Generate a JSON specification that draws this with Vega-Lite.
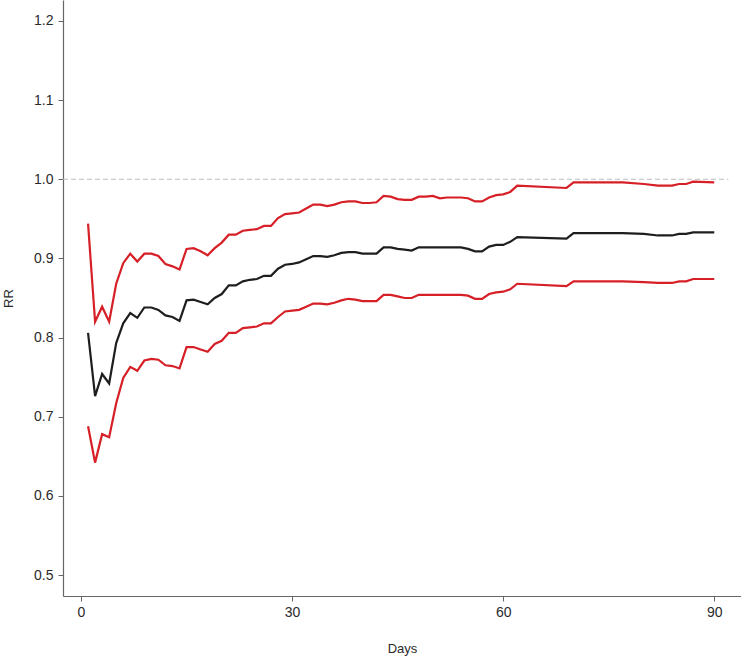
{
  "$schema": "https://vega.github.io/schema/vega-lite/v6.json",
  "width": 678,
  "height": 596,
  "autosize": {"type": "none"},
  "padding": {"left": 63, "top": 0, "right": 0, "bottom": 64},
  "background": "white",
  "config": {
    "view": {"stroke": null},
    "font": "Liberation Sans",
    "axis": {
      "grid": false,
      "domainColor": "#666666",
      "domainWidth": 1.2,
      "tickColor": "#666666",
      "tickSize": 5,
      "labelColor": "#2a2a2a",
      "labelFontSize": 14,
      "labelFont": "Liberation Sans",
      "titleFont": "Liberation Sans",
      "titleFontSize": 13,
      "titleFontWeight": "normal",
      "titleColor": "#2a2a2a"
    }
  },
  "datasets": {
    "rr": [
      {"day": 1, "rr": 0.806, "lo": 0.688, "hi": 0.944},
      {"day": 2, "rr": 0.726, "lo": 0.642, "hi": 0.820},
      {"day": 3, "rr": 0.754, "lo": 0.678, "hi": 0.839},
      {"day": 4, "rr": 0.742, "lo": 0.674, "hi": 0.820},
      {"day": 5, "rr": 0.793, "lo": 0.717, "hi": 0.868},
      {"day": 6, "rr": 0.818, "lo": 0.749, "hi": 0.894},
      {"day": 7, "rr": 0.831, "lo": 0.763, "hi": 0.906},
      {"day": 8, "rr": 0.825, "lo": 0.758, "hi": 0.896},
      {"day": 9, "rr": 0.838, "lo": 0.771, "hi": 0.906},
      {"day": 10, "rr": 0.838, "lo": 0.773, "hi": 0.906},
      {"day": 11, "rr": 0.835, "lo": 0.772, "hi": 0.903},
      {"day": 12, "rr": 0.828, "lo": 0.765, "hi": 0.893},
      {"day": 13, "rr": 0.826, "lo": 0.764, "hi": 0.890},
      {"day": 14, "rr": 0.821, "lo": 0.761, "hi": 0.886},
      {"day": 15, "rr": 0.847, "lo": 0.788, "hi": 0.912},
      {"day": 16, "rr": 0.848, "lo": 0.788, "hi": 0.913},
      {"day": 17, "rr": 0.845, "lo": 0.785, "hi": 0.909},
      {"day": 18, "rr": 0.842, "lo": 0.782, "hi": 0.904},
      {"day": 19, "rr": 0.850, "lo": 0.792, "hi": 0.913},
      {"day": 20, "rr": 0.855, "lo": 0.796, "hi": 0.920},
      {"day": 21, "rr": 0.866, "lo": 0.806, "hi": 0.930},
      {"day": 22, "rr": 0.866, "lo": 0.806, "hi": 0.930},
      {"day": 23, "rr": 0.871, "lo": 0.812, "hi": 0.935},
      {"day": 24, "rr": 0.873, "lo": 0.813, "hi": 0.936},
      {"day": 25, "rr": 0.874, "lo": 0.814, "hi": 0.937},
      {"day": 26, "rr": 0.878, "lo": 0.818, "hi": 0.941},
      {"day": 27, "rr": 0.878, "lo": 0.818, "hi": 0.941},
      {"day": 28, "rr": 0.887, "lo": 0.826, "hi": 0.951},
      {"day": 29, "rr": 0.892, "lo": 0.833, "hi": 0.956},
      {"day": 30, "rr": 0.893, "lo": 0.834, "hi": 0.957},
      {"day": 31, "rr": 0.895, "lo": 0.835, "hi": 0.958},
      {"day": 32, "rr": 0.899, "lo": 0.839, "hi": 0.963},
      {"day": 33, "rr": 0.903, "lo": 0.843, "hi": 0.968},
      {"day": 34, "rr": 0.903, "lo": 0.843, "hi": 0.968},
      {"day": 35, "rr": 0.902, "lo": 0.842, "hi": 0.966},
      {"day": 36, "rr": 0.904, "lo": 0.844, "hi": 0.968},
      {"day": 37, "rr": 0.907, "lo": 0.847, "hi": 0.971},
      {"day": 38, "rr": 0.908, "lo": 0.849, "hi": 0.972},
      {"day": 39, "rr": 0.908, "lo": 0.848, "hi": 0.972},
      {"day": 40, "rr": 0.906, "lo": 0.846, "hi": 0.970},
      {"day": 41, "rr": 0.906, "lo": 0.846, "hi": 0.970},
      {"day": 42, "rr": 0.906, "lo": 0.846, "hi": 0.971},
      {"day": 43, "rr": 0.914, "lo": 0.854, "hi": 0.979},
      {"day": 44, "rr": 0.914, "lo": 0.854, "hi": 0.978},
      {"day": 45, "rr": 0.912, "lo": 0.852, "hi": 0.975},
      {"day": 46, "rr": 0.911, "lo": 0.850, "hi": 0.974},
      {"day": 47, "rr": 0.910, "lo": 0.850, "hi": 0.974},
      {"day": 48, "rr": 0.914, "lo": 0.854, "hi": 0.978},
      {"day": 49, "rr": 0.914, "lo": 0.854, "hi": 0.978},
      {"day": 50, "rr": 0.914, "lo": 0.854, "hi": 0.979},
      {"day": 51, "rr": 0.914, "lo": 0.854, "hi": 0.976},
      {"day": 52, "rr": 0.914, "lo": 0.854, "hi": 0.977},
      {"day": 53, "rr": 0.914, "lo": 0.854, "hi": 0.977},
      {"day": 54, "rr": 0.914, "lo": 0.854, "hi": 0.977},
      {"day": 55, "rr": 0.912, "lo": 0.853, "hi": 0.976},
      {"day": 56, "rr": 0.909, "lo": 0.849, "hi": 0.972},
      {"day": 57, "rr": 0.909, "lo": 0.849, "hi": 0.972},
      {"day": 58, "rr": 0.915, "lo": 0.855, "hi": 0.977},
      {"day": 59, "rr": 0.917, "lo": 0.857, "hi": 0.980},
      {"day": 60, "rr": 0.917, "lo": 0.858, "hi": 0.981},
      {"day": 61, "rr": 0.921, "lo": 0.861, "hi": 0.984},
      {"day": 62, "rr": 0.927, "lo": 0.868, "hi": 0.992},
      {"day": 69, "rr": 0.925, "lo": 0.865, "hi": 0.989},
      {"day": 70, "rr": 0.932, "lo": 0.871, "hi": 0.996},
      {"day": 77, "rr": 0.932, "lo": 0.871, "hi": 0.996},
      {"day": 80, "rr": 0.931, "lo": 0.870, "hi": 0.994},
      {"day": 82, "rr": 0.929, "lo": 0.869, "hi": 0.992},
      {"day": 84, "rr": 0.929, "lo": 0.869, "hi": 0.992},
      {"day": 85, "rr": 0.931, "lo": 0.871, "hi": 0.994},
      {"day": 86, "rr": 0.931, "lo": 0.871, "hi": 0.994},
      {"day": 87, "rr": 0.933, "lo": 0.874, "hi": 0.997},
      {"day": 90, "rr": 0.933, "lo": 0.874, "hi": 0.996}
    ],
    "ref": [
      {"x0": -2.56, "x1": 92, "y": 1.0}
    ]
  },
  "layer": [
    {
      "data": {"name": "ref"},
      "mark": {"type": "rule", "color": "#bdbdbd", "strokeWidth": 1, "strokeDash": [5, 3]},
      "encoding": {
        "x": {"field": "x0", "type": "quantitative", "scale": {"domain": [-2.56, 93.8], "nice": false, "zero": false}},
        "x2": {"field": "x1"},
        "y": {"field": "y", "type": "quantitative", "scale": {"domain": [0.4735, 1.2265], "nice": false, "zero": false}}
      }
    },
    {
      "data": {"name": "rr"},
      "mark": {"type": "line", "color": "#d61f26", "strokeWidth": 2.2},
      "encoding": {
        "x": {"field": "day", "type": "quantitative"},
        "y": {"field": "hi", "type": "quantitative"}
      }
    },
    {
      "data": {"name": "rr"},
      "mark": {"type": "line", "color": "#d61f26", "strokeWidth": 2.2},
      "encoding": {
        "x": {"field": "day", "type": "quantitative"},
        "y": {"field": "lo", "type": "quantitative"}
      }
    },
    {
      "data": {"name": "rr"},
      "mark": {"type": "line", "color": "#1e1e1e", "strokeWidth": 2.2},
      "encoding": {
        "x": {
          "field": "day",
          "type": "quantitative",
          "axis": {"title": "Days", "values": [0, 30, 60, 90], "titlePadding": 23, "labelPadding": 4}
        },
        "y": {
          "field": "rr",
          "type": "quantitative",
          "axis": {"title": "RR", "values": [0.5, 0.6, 0.7, 0.8, 0.9, 1.0, 1.1, 1.2], "format": ".1f", "titlePadding": 18, "labelPadding": 5}
        }
      }
    }
  ]
}
